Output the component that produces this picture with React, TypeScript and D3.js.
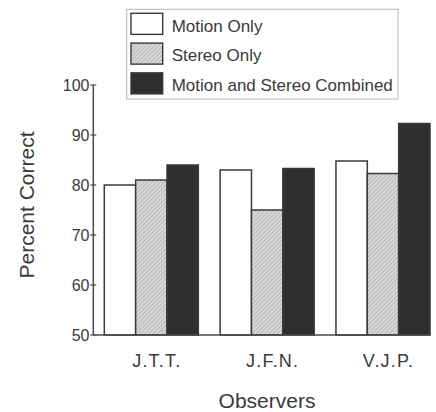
import React from "react";
import * as d3 from "d3";

const categories = ["J.T.T.", "J.F.N.", "V.J.P."];
const seriesNames = ["Motion Only", "Stereo Only", "Motion and Stereo Combined"];
const motionOnly = [80, 83, 84.8];
const stereoOnly = [81, 75, 82.3];
const combined = [84, 83.3, 92.3];
const yTicks = [50, 60, 70, 80, 90, 100];

const seriesValues = [motionOnly, stereoOnly, combined];
const FONT = "'Liberation Sans', Arial, Helvetica, sans-serif";
const TEXT = "#3a3a3a";

export default function App() {
  const W = 436;
  const H = 412;
  const axisX = 93.3;
  const y = d3.scaleLinear().domain([50, 100]).range([335, 85]);
  const x0 = d3
    .scaleBand<string>()
    .domain(categories)
    .range([104.3, 430])
    .paddingInner(0.188)
    .paddingOuter(0);
  const x1 = d3
    .scaleBand<string>()
    .domain(seriesNames)
    .range([0, x0.bandwidth()])
    .padding(0);

  const fills = ["#ffffff", "url(#hatch)", "#2f2f2f"];

  const legendY = d3
    .scaleBand<string>()
    .domain(seriesNames)
    .range([13.3, 93.9])
    .paddingInner(0.293)
    .paddingOuter(0);

  return (
    <svg
      width={W}
      height={H}
      style={{ position: "absolute", left: 0, top: 0, background: "#fff" }}
      fontFamily={FONT}
    >
      <defs>
        <pattern id="hatch" patternUnits="userSpaceOnUse" width="3" height="3" patternTransform="rotate(45)">
          <rect width="3" height="3" fill="#d9d9d9" />
          <line x1="0" y1="0" x2="0" y2="3" stroke="#9a9a9a" strokeWidth="1.1" />
        </pattern>
      </defs>

      {/* legend */}
      <rect x={126.7} y={9.3} width={271.3} height={89.7} fill="#fff" stroke="#b5b5b5" strokeWidth={1} />
      {seriesNames.map((s, i) => (
        <g key={s}>
          <rect
            x={131}
            y={legendY(s)!}
            width={31.7}
            height={legendY.bandwidth()}
            fill={fills[i]}
            stroke="#3a3a3a"
            strokeWidth={1.4}
          />
          <text x={171.7} y={legendY(s)! + legendY.bandwidth() / 2 + 7.8} fontSize={17} fill={TEXT}>
            {s}
          </text>
        </g>
      ))}

      {/* bars */}
      {categories.map((c, ci) => (
        <g key={c} transform={`translate(${x0(c)},0)`}>
          {seriesNames.map((s, si) => {
            const v = seriesValues[si][ci];
            return (
              <rect
                key={s}
                x={x1(s)!}
                y={y(v)}
                width={x1.bandwidth()}
                height={y(50) - y(v)}
                fill={fills[si]}
                stroke="#3a3a3a"
                strokeWidth={1.5}
              />
            );
          })}
        </g>
      ))}

      {/* y axis */}
      <line x1={axisX} x2={axisX} y1={y(100)} y2={y(50)} stroke="#4a4a4a" strokeWidth={1.5} />
      {yTicks.map((t) => (
        <g key={t}>
          <line x1={axisX - 3} x2={axisX + 3} y1={y(t)} y2={y(t)} stroke="#4a4a4a" strokeWidth={1.2} />
          <text x={89.5} y={y(t) + 5.7} textAnchor="end" fontSize={16} fill={TEXT}>
            {t}
          </text>
        </g>
      ))}

      {/* x axis */}
      <line x1={axisX} x2={430} y1={y(50)} y2={y(50)} stroke="#4a4a4a" strokeWidth={1.5} />
      {categories.map((c) => (
        <text
          key={c}
          x={x0(c)! + x0.bandwidth() / 2 + 5.5}
          y={366.7}
          textAnchor="middle"
          fontSize={18}
          letterSpacing={1.2}
          fill={TEXT}
        >
          {c}
        </text>
      ))}

      <text x={267} y={408} textAnchor="middle" fontSize={21} fill={TEXT}>
        Observers
      </text>
      <text
        transform={`translate(33.5,205) rotate(-90)`}
        textAnchor="middle"
        fontSize={21}
        fill={TEXT}
      >
        Percent Correct
      </text>
    </svg>
  );
}
